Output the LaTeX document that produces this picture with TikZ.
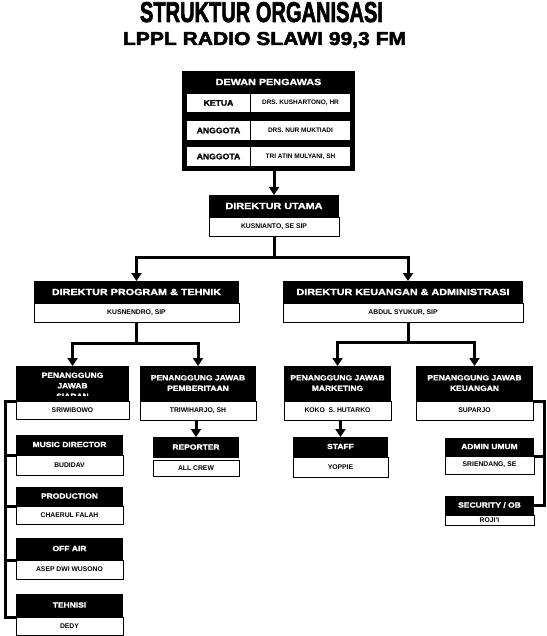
\documentclass[tikz,border=0pt]{standalone}
\usepackage{fontspec}
\setmainfont{Liberation Sans}
\newfontfamily\hvy{Liberation Sans}[BoldFeatures={FakeBold=1.6}]
\newfontfamily\ttl{Liberation Sans}[BoldFeatures={FakeBold=2.5}]
\usepackage{graphicx}
\usetikzlibrary{arrows.meta}

\newcommand\bighd[1]{\scalebox{1.2}[1]{#1}}
\newcommand\smhd[1]{\scalebox{1.13}[1]{\begin{tabular}{@{}c@{}}#1\end{tabular}}}

\newcommand\orgbox[9]{%
  \node[#2,minimum width=#5pt,minimum height=#6pt,anchor=north west] (#1-h) at (#3,#4) {#8};
  \node[cell,minimum width=#5pt,minimum height=#7pt,anchor=north] (#1-n) at (#1-h.south) {#9};
}

\tikzset{
  hdr/.style={fill=black, text=white, inner sep=0pt, outer sep=0pt, font=\hvy\bfseries\fontsize{9}{10}\selectfont},
  shdr/.style={fill=black, text=white, inner sep=0pt, outer sep=0pt, font=\hvy\bfseries\fontsize{7.5}{10.5}\selectfont},
  cell/.style={fill=white, draw=black, line width=0.9pt, inner sep=0pt, outer sep=0pt, font=\bfseries\fontsize{6.8}{8}\selectfont},
  dlbl/.style={fill=white, inner sep=0pt, outer sep=0pt, anchor=north west, font=\hvy\bfseries\fontsize{8}{9}\selectfont},
  dnm/.style={fill=white, inner sep=0pt, outer sep=0pt, anchor=north west, font=\bfseries\fontsize{6.5}{8}\selectfont},
  conn/.style={line width=3pt},
  arrowed/.style={-{Triangle[width=10pt,length=8pt]}},
}

\begin{document}
\begin{tikzpicture}[x=1pt,y=-1pt]
\useasboundingbox (0,0) rectangle (546,636);

% titles
\node[anchor=base, inner sep=0pt] (t1) at (261.5,22) {\resizebox{243pt}{20pt}{\ttl\bfseries STRUKTUR ORGANISASI}};
\node[anchor=base, inner sep=0pt] (t2) at (264.5,45) {\resizebox{283pt}{13pt}{\ttl\bfseries LPPL RADIO SLAWI 99,3 FM}};

% Dewan Pengawas
\node[fill=black, inner sep=0pt, outer sep=0pt, minimum width=173pt, minimum height=100pt, anchor=north west] (dw) at (182,71) {};
\node[text=white, inner sep=0pt, font=\hvy\bfseries\fontsize{9}{10}\selectfont] (dw-t) at (268.5,82) {\bighd{DEWAN PENGAWAS}};
\node[dlbl, minimum width=63pt, minimum height=18pt] (r1a) at (187,94) {\scalebox{1.08}[1]{KETUA}};
\node[dnm, minimum width=99pt, minimum height=18pt] (r1b) at (251,94) {DRS. KUSHARTONO, HR};
\node[dlbl, minimum width=63pt, minimum height=19pt] (r2a) at (187,121) {\scalebox{1.08}[1]{ANGGOTA}};
\node[dnm, minimum width=99pt, minimum height=19pt] (r2b) at (251,121) {DRS. NUR MUKTIADI};
\node[dlbl, minimum width=63pt, minimum height=19pt] (r3a) at (187,147) {\scalebox{1.08}[1]{ANGGOTA}};
\node[dnm, minimum width=99pt, minimum height=19pt] (r3b) at (251,147) {TRI ATIN MULYANI, SH};

% directors
\orgbox{du}{hdr}{209}{195}{130}{22}{19}{\bighd{DIREKTUR UTAMA}}{KUSNIANTO, SE SIP}
\orgbox{dp}{hdr}{34}{281}{205}{22}{19}{\bighd{DIREKTUR PROGRAM \& TEHNIK}}{KUSNENDRO, SIP}
\orgbox{dk}{hdr}{283}{281}{240}{22}{19}{\bighd{DIREKTUR KEUANGAN \& ADMINISTRASI}}{ABDUL SYUKUR, SIP}

% penanggung jawab
\orgbox{ps}{shdr}{16}{366}{113}{35}{18}{}{SRIWIBOWO}
\begin{scope}
  \clip (ps-h.north west) rectangle ([yshift=6pt]ps-h.south east);
  \node[shdr, fill=none, anchor=north] (ps-t) at ([yshift=-4.5pt]ps-h.north) {\smhd{PENANGGUNG\\JAWAB\\SIARAN}};
\end{scope}
\orgbox{pb}{shdr}{140}{366}{116}{35}{19}{\smhd{PENANGGUNG JAWAB\\PEMBERITAAN}}{TRIWIHARJO, SH}
\orgbox{mk}{shdr}{284}{366}{107}{35}{19}{\smhd{PENANGGUNG JAWAB\\MARKETING}}{KOKO\ \ S. HUTARKO}
\orgbox{pk}{shdr}{416}{366}{117}{35}{19}{\smhd{PENANGGUNG JAWAB\\KEUANGAN}}{SUPARJO}

% left column
\orgbox{md}{shdr}{16}{435}{107}{20}{20}{\smhd{MUSIC DIRECTOR}}{BUDIDAV}
\orgbox{pr}{shdr}{16}{487}{107}{19}{18}{\smhd{PRODUCTION}}{CHAERUL FALAH}
\orgbox{oa}{shdr}{16}{538}{107}{22}{19}{\smhd{OFF AIR}}{ASEP DWI WUSONO}
\orgbox{te}{shdr}{16}{594}{107}{23}{18}{\smhd{TEHNISI}}{DEDY}

% reporter
\node[shdr, minimum width=86pt, minimum height=21pt, anchor=north west] (rp-h) at (153,437) {\smhd{REPORTER}};
\node[cell, minimum width=86pt, minimum height=16pt, anchor=north west] (rp-n) at (153,460) {ALL CREW};

% staff, admin, security
\orgbox{st}{shdr}{293}{437}{95}{20}{20}{\smhd{STAFF}}{YOPPIE}
\orgbox{ad}{shdr}{445}{438}{89}{18}{18}{\smhd{ADMIN UMUM}}{SRIENDANG, SE}
\orgbox{sc}{shdr}{445}{496}{89}{19}{10}{\smhd{SECURITY / OB}}{ROJI'I}

% connectors
\draw[conn,arrowed] (du-h.north |- dw.south) -- (du-h.north);
\draw[conn] (du-n.south) -- ++(0,21) coordinate (j1);
\draw[conn,arrowed] (j1) -| (dp-h.north);
\draw[conn,arrowed] (j1) -| ([xshift=5pt]dk-h.north);

\draw[conn] (dp-n.south) -- ++(0,21) coordinate (j2);
\draw[conn,arrowed] (j2) -| (ps-h.north);
\draw[conn,arrowed] (j2) -| (pb-h.north);

\draw[conn] ([xshift=5pt]dk-n.south) -- ++(0,20) coordinate (j3);
\draw[conn,arrowed] (j3) -| (mk-h.north);
\draw[conn,arrowed] (j3) -| (pk-h.north);

\draw[conn,arrowed] (pb-n.south -| rp-h.north) -- (rp-h.north);
\draw[conn,arrowed] (mk-n.south -| st-h.north) -- (st-h.north);

\coordinate (lc) at (5,401);
\draw[conn] (ps-h.south west) -- (lc) |- (te-h.south west);
\foreach \b in {md,pr,oa} \draw[conn] (lc |- \b-h.south west) -- (\b-h.south west);

\coordinate (rc) at (544,401);
\draw[conn] (pk-h.south east) -- (rc) |- (sc-h.east);
\draw[conn] (rc |- ad-h.south east) -- (ad-h.south east);
\end{tikzpicture}
\end{document}
